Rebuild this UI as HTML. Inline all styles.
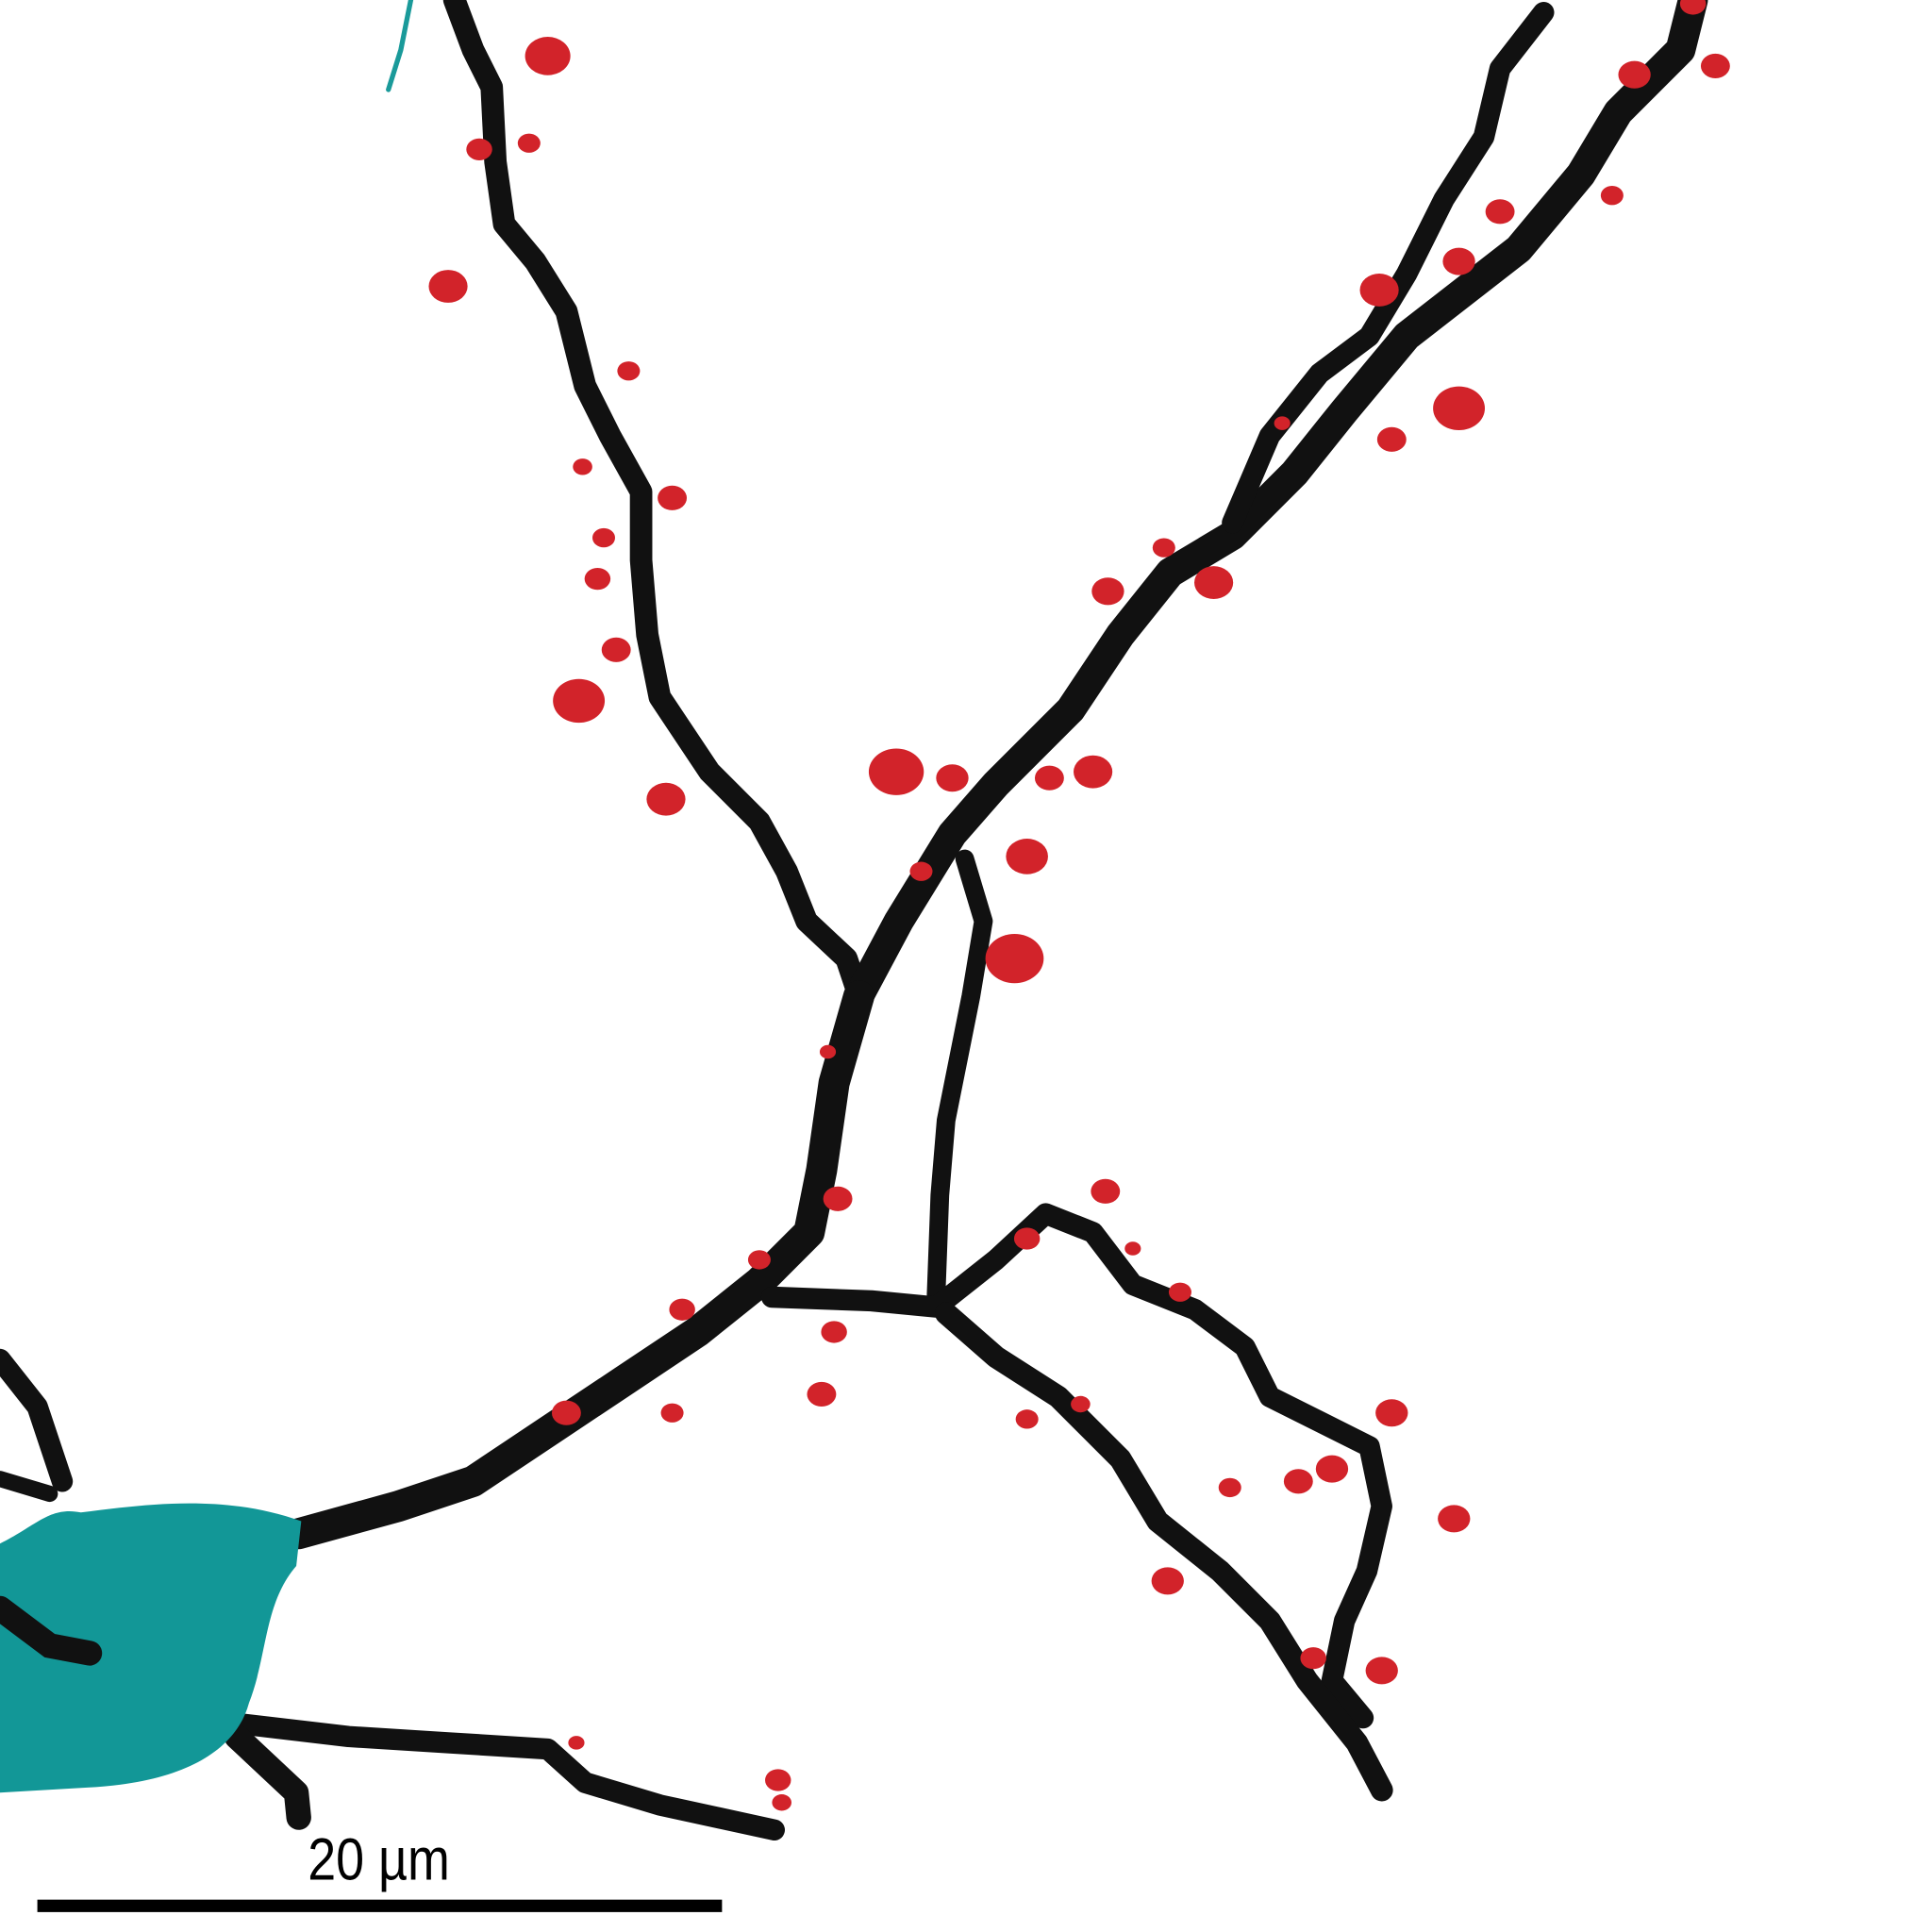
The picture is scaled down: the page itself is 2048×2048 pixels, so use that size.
<!DOCTYPE html>
<html><head><meta charset="utf-8"><style>html,body{margin:0;padding:0;background:#fff}svg{display:block}</style></head>
<body>
<svg width="2048" height="2048" viewBox="0 0 1552 1552" xmlns="http://www.w3.org/2000/svg">
<g fill="none" stroke="#111" stroke-linecap="round" stroke-linejoin="round">
<path stroke-width="18" d="M365,0 L380,40 L395,70 L398,130 L405,180 L430,210 L455,250 L470,310 L490,350 L515,395 L515,450 L520,510 L530,560 L570,620 L610,660 L632,700 L648,740 L680,770 L690,800"/>
<path stroke-width="24" d="M1360,0 L1350,40 L1300,90 L1270,140 L1220,200 L1130,270 L1080,330 L1040,380 L990,430 L940,460 L900,510 L860,570 L800,630 L765,670 L722,740 L690,800"/>
<path stroke-width="17" d="M1240,10 L1205,55 L1192,110 L1160,160 L1130,220 L1100,270 L1060,300 L1020,350 L990,420"/>
<path stroke-width="25" d="M690,800 L670,870 L660,940 L650,990 L610,1030 L560,1070 L500,1110 L440,1150 L380,1190 L320,1210 L240,1232"/>
<path stroke-width="15" d="M775,690 L790,740 L780,800 L770,850 L760,900 L755,960 L752,1040"/>
<path stroke-width="17" d="M620,1042 L700,1045 L752,1050 L800,1012 L840,975 L878,990 L910,1032 L960,1052 L1000,1082 L1020,1122 L1060,1142 L1100,1162 L1110,1210 L1098,1262 L1080,1302 L1070,1350 L1095,1380"/>
<path stroke-width="18" d="M760,1055 L800,1090 L850,1122 L900,1172 L930,1222 L980,1262 L1020,1302 L1050,1350 L1090,1400 L1110,1438"/>
<path stroke-width="17" d="M195,1385 L280,1395 L360,1400 L440,1405 L470,1432 L530,1450 L622,1470"/>
<path stroke-width="20" d="M190,1395 L238,1440 L240,1460"/>
<path stroke-width="17" d="M0,1092 L30,1130 L50,1190"/>
<path stroke-width="13" d="M0,1188 L40,1200"/>
<path stroke="#1a9a9a" stroke-width="4" d="M330,0 L322,40 L312,72"/>
</g>
<path fill="#129797" d="M0,1240 C30,1225 40,1210 65,1215 C120,1208 180,1200 242,1222 L238,1258 C212,1288 215,1330 200,1368 C190,1405 150,1432 70,1436 L0,1440 Z"/>
<path fill="none" stroke="#111" stroke-width="20" stroke-linecap="round" d="M0,1292 L40,1322 L72,1328"/>
<g id="spines" fill="#d2232a"></g>
<g>
<rect x="30" y="1526" width="550" height="10" fill="#000"/>
<text x="358" y="1510" font-size="48" text-anchor="middle" font-family="Liberation Sans, sans-serif" transform="scale(0.85,1)">20 µm</text>
</g>
</svg>
<script>
const spineX=[440,385,425,360,505,468,540,485,480,495,465,535,720,765,825,815,740,843,878,890,935,975,665,673,610,548,670,660,455,540,825,868,825,888,910,948,1118,1043,1070,988,938,1168,1055,1110,625,628,463,1313,1378,1205,1295,1172,1108,1172,1118,1030,1360];
const spineY=[45,120,115,230,298,375,400,432,465,522,563,642,620,625,688,770,700,625,620,475,440,468,845,963,1012,1052,1070,1120,1135,1135,1140,1128,995,957,1003,1038,1135,1190,1180,1195,1270,1220,1332,1342,1430,1448,1400,60,53,170,157,210,233,328,353,340,3];
const spineR=[14,8,7,12,7,6,9,7,8,9,16,12,17,10,13,18,7,9,12,10,7,12,5,9,7,8,8,9,9,7,7,6,8,9,5,7,10,9,10,7,10,10,8,10,8,6,5,10,9,9,7,10,12,16,9,5,8];
const g=document.getElementById('spines');
for(let i=0;i<spineX.length;i++){
  const c=document.createElementNS('http://www.w3.org/2000/svg','ellipse');
  c.setAttribute('cx',spineX[i]);c.setAttribute('cy',spineY[i]);
  c.setAttribute('rx',spineR[i]*1.3);c.setAttribute('ry',spineR[i]*1.1);
  
  
  g.appendChild(c);
}
</script>
</body></html>
